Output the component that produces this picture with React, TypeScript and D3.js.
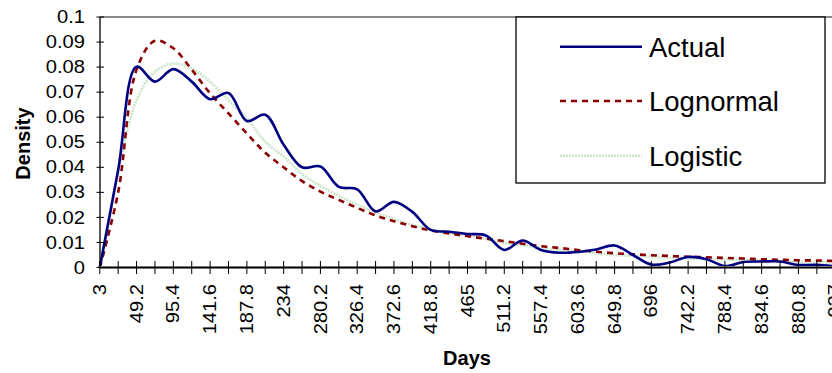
import React from "react";
import * as d3 from "d3";

const days = [3, 26.1, 49.2, 72.3, 95.4, 118.5, 141.6, 164.7, 187.8, 210.9, 234, 257.1, 280.2, 303.3, 326.4, 349.5, 372.6, 395.7, 418.8, 441.9, 465, 488.1, 511.2, 534.3, 557.4, 580.5, 603.6, 626.7, 649.8, 672.9, 696, 719.1, 742.2, 765.3, 788.4, 811.5, 834.6, 857.7, 880.8, 903.9, 927];

const actual = [0, 0.039, 0.0802, 0.0742, 0.0792, 0.0742, 0.0672, 0.0697, 0.0585, 0.061, 0.049, 0.04, 0.0403, 0.0322, 0.0312, 0.0224, 0.0262, 0.0222, 0.015, 0.0143, 0.0134, 0.0128, 0.007, 0.0108, 0.007, 0.0059, 0.0062, 0.0072, 0.0088, 0.005, 0.0012, 0.002, 0.0042, 0.0033, 0.0006, 0.0022, 0.0024, 0.0024, 0.001, 0.0011, 0.0004];

const lognormal = [0, 0.03, 0.079, 0.0905, 0.0875, 0.079, 0.0695, 0.0615, 0.0535, 0.0458, 0.04, 0.0345, 0.0303, 0.027, 0.0238, 0.0208, 0.0185, 0.0165, 0.0148, 0.0136, 0.0125, 0.0115, 0.0105, 0.0095, 0.0085, 0.0078, 0.007, 0.0063, 0.0057, 0.0053, 0.0049, 0.0046, 0.0043, 0.0041, 0.0038, 0.0036, 0.0033, 0.0031, 0.0029, 0.0028, 0.0026];

const logistic = [0, 0.038, 0.0668, 0.0781, 0.0814, 0.0794, 0.0741, 0.0668, 0.0595, 0.0502, 0.0443, 0.0373, 0.0326, 0.0286, 0.025, 0.0219, 0.0194, 0.017, 0.0153, 0.0139, 0.0127, 0.0114, 0.0099, 0.0089, 0.0078, 0.0071, 0.0067, 0.0056, 0.005, 0.0046, 0.0043, 0.0039, 0.0036, 0.0034, 0.0032, 0.0029, 0.0027, 0.0025, 0.0023, 0.0021, 0.002];

const yTicks = [0, 0.01, 0.02, 0.03, 0.04, 0.05, 0.06, 0.07, 0.08, 0.09, 0.1];

const seriesNames = ["Actual", "Lognormal", "Logistic"];

const FONT = "Arial, 'Liberation Sans', sans-serif";

export default function App() {
  const W = 832, H = 373;
  const x = d3.scaleLinear().domain([0, days.length - 1]).range([99.8, 835.2]);
  const y = d3.scaleLinear().domain([0, 0.1]).range([267.5, 17]);
  const line = d3
    .line<number>()
    .x((_, i) => x(i))
    .y((d) => y(d))
    .curve(d3.curveCatmullRom.alpha(0.5));

  const styles = [
    { stroke: "#000080", width: 2.6, dash: undefined as string | undefined },
    { stroke: "#8b0000", width: 2.6, dash: "6,5" },
    { stroke: "#cde6cd", width: 2.8, dash: "2,1" },
  ];
  const data = [actual, lognormal, logistic];

  const legendX = 516, legendY = 17, legendW = 309, legendH = 166;
  const legendRows = [46.7, 101, 155.7];

  return (
    <svg width={W} height={H} style={{ position: "absolute", left: 0, top: 0, background: "#fff" }} fontFamily={FONT}>
      <rect x={0} y={0} width={W} height={H} fill="#fff" />
      <line x1={100} x2={W} y1={y(0.1)} y2={y(0.1)} stroke="#8a8a8a" strokeWidth={2} />
      {data.map((d, k) => (
        <path
          key={k}
          d={line(d) || ""}
          fill="none"
          stroke={styles[k].stroke}
          strokeWidth={styles[k].width}
          strokeDasharray={styles[k].dash}
          strokeLinejoin="round"
        />
      )).reverse()}
      <line x1={100} x2={100} y1={y(0.1)} y2={y(0)} stroke="#000" strokeWidth={1.3} />
      {yTicks.map((t) => (
        <g key={t}>
          <line x1={96.5} x2={104} y1={y(t)} y2={y(t)} stroke="#000" strokeWidth={1} />
          <text
            transform={`translate(85,${y(t)}) scale(1.15,1)`}
            textAnchor="end"
            dy="0.35em"
            fontSize={17.5}
            fill="#000"
          >
            {String(t)}
          </text>
        </g>
      ))}
      <line x1={100} x2={W} y1={y(0)} y2={y(0)} stroke="#a0a0a0" strokeWidth={3} />
      <line x1={100} x2={W} y1={y(0)} y2={y(0)} stroke="#000" strokeWidth={1.3} />
      {days.map((dd, i) => (
        <g key={i}>
          <line x1={x(i)} x2={x(i)} y1={261} y2={274} stroke="#000" strokeWidth={1} />
          {i % 2 === 0 && (
            <text
              transform={`translate(${x(i)},284) rotate(-90) scale(1.15,1)`}
              textAnchor="end"
              dy="0.35em"
              fontSize={17.5}
              fill="#000"
            >
              {String(dd)}
            </text>
          )}
        </g>
      ))}
      <text x={467} y={365} textAnchor="middle" fontSize={20} fontWeight="bold" fill="#000">
        Days
      </text>
      <text transform="translate(30,143.5) rotate(-90)" textAnchor="middle" fontSize={20} fontWeight="bold" fill="#000">
        Density
      </text>
      <rect x={legendX} y={legendY} width={legendW} height={legendH} fill="#fff" stroke="#000" strokeWidth={1.3} />
      {seriesNames.map((n, k) => (
        <g key={n}>
          <line
            x1={560}
            x2={642}
            y1={legendRows[k]}
            y2={legendRows[k]}
            stroke={styles[k].stroke}
            strokeWidth={styles[k].width}
            strokeDasharray={styles[k].dash}
          />
          <text x={649} y={legendRows[k]} dy="0.36em" fontSize={27.5} fill="#000">
            {n}
          </text>
        </g>
      ))}
    </svg>
  );
}
